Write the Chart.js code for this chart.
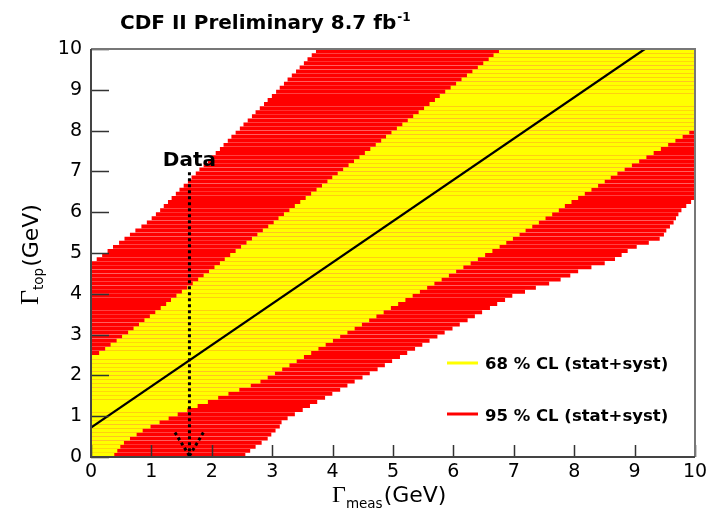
<!DOCTYPE html>
<html><head><meta charset="utf-8">
<script src="https://cdn.jsdelivr.net/npm/chart.js@4.4.0/dist/chart.umd.min.js"></script>
<style>html,body{margin:0;padding:0;background:#fff}#wrap{width:720px;height:513px;position:relative}</style>
</head><body><div id="wrap"><canvas id="c" width="720" height="513"></canvas></div>
<script>
// ---- data (Gamma_top rows, GeV) ----
const gammaTop = [0.05,0.15,0.25,0.35,0.45,0.55,0.65,0.75,0.85,0.95,1.05,1.15,1.25,1.35,1.45,1.55,1.65,1.75,1.85,1.95,2.05,2.15,2.25,2.35,2.45,2.55,2.65,2.75,2.85,2.95,3.05,3.15,3.25,3.35,3.45,3.55,3.65,3.75,3.85,3.95,4.05,4.15,4.25,4.35,4.45,4.55,4.65,4.75,4.85,4.95,5.05,5.15,5.25,5.35,5.45,5.55,5.65,5.75,5.85,5.95,6.05,6.15,6.25,6.35,6.45,6.55,6.65,6.75,6.85,6.95,7.05,7.15,7.25,7.35,7.45,7.55,7.65,7.75,7.85,7.95,8.05,8.15,8.25,8.35,8.45,8.55,8.65,8.75,8.85,8.95,9.05,9.15,9.25,9.35,9.45,9.55,9.65,9.75,9.85,9.95];
// 95% CL band in Gamma_meas
const cl95Low = [0,0,0,0,0,0,0,0,0,0,0,0,0,0,0,0,0,0,0,0,0,0,0,0,0,0,0,0,0,0,0,0,0,0,0,0,0,0,0,0,0,0,0,0,0,0,0,0,
 0.10,0.19,0.28,0.37,0.47,0.56,0.65,0.74,0.84,0.93,
 1.01,1.08,1.15,1.21,1.28,1.34,1.41,1.47,1.54,1.61,1.67,1.74,1.80,1.87,1.94,2.00,2.07,2.14,2.20,2.27,2.33,2.40,2.47,2.53,2.60,2.67,2.73,2.80,2.87,2.93,3.00,3.07,3.13,3.20,3.26,3.33,3.40,3.46,3.53,3.59,3.66,3.73];
const cl95High = [2.55,2.63,2.72,2.82,2.92,2.98,3.05,3.12,3.15,3.25,3.37,3.50,3.62,3.74,3.87,3.99,4.12,4.24,4.36,4.49,4.61,4.74,4.86,4.98,5.11,5.23,5.36,5.48,5.60,5.73,5.85,5.98,6.10,6.23,6.35,6.47,6.60,6.72,6.85,6.97,7.18,7.36,7.58,7.77,7.93,8.06,8.28,8.50,8.67,8.78,8.88,9.03,9.23,9.41,9.48,9.52,9.58,9.64,9.68,9.72,9.77,9.85,9.93,9.99,
 10,10,10,10,10,10,10,10,10,10,10,10,10,10,10,10,10,10,10,10,10,10,10,10,10,10,10,10,10,10,10,10,10,10,10,10];
// 68% CL band in Gamma_meas
const cl68Low = [0,0,0,0,0,0,0,0,0,0,0,0,0,0,0,0,0,0,0,0,0,0,0,0,0,
 0.14,0.24,0.33,0.43,0.52,0.62,0.71,0.80,
 0.89,0.98,1.07,1.16,1.25,1.33,1.42,1.51,1.60,1.69,1.78,1.87,1.96,2.05,2.14,2.22,2.31,2.40,2.49,2.58,2.67,2.76,2.85,2.94,3.03,3.11,3.20,3.29,3.38,3.47,3.56,3.65,3.74,3.83,3.92,4.00,4.09,4.18,4.27,4.36,4.45,4.54,4.63,4.72,4.81,4.89,4.98,5.07,5.16,5.25,5.34,5.43,5.52,5.61,5.70,5.78,5.87,5.96,6.05,6.14,6.23,6.32,6.41,6.50,6.59,6.67,6.76];
const cl68High = [0.38,0.43,0.48,0.54,0.64,0.75,0.85,0.98,1.13,1.28,
 1.43,1.59,1.76,1.93,2.10,2.27,2.45,2.64,2.80,2.92,
 3.04,3.16,3.28,3.40,3.52,3.64,3.76,3.88,4.00,4.12,
 4.24,4.36,4.48,4.60,4.72,4.84,4.96,5.08,5.20,5.32,
 5.44,5.56,5.68,5.80,5.92,6.04,6.16,6.28,6.40,6.52,
 6.64,6.76,6.87,6.98,7.09,7.19,7.30,7.41,7.52,7.63,
 7.74,7.84,7.95,8.06,8.17,8.28,8.39,8.50,8.60,8.71,
 8.83,8.95,9.07,9.19,9.31,9.43,9.55,9.67,9.79,9.90,
 10,10,10,10,10,10,10,10,10,10,10,10,10,10,10,10,10,10,10,10];
// central (median) line: Gamma_meas -> Gamma_top
const medianMeas = [0, 9.17];
const medianTop = [0.72, 10];
// measured value and the arrow
const measuredGamma = 1.63;
const arrowTopGamma = 6.98;
const arrowHeadMeas = [1.39, 1.86];
const arrowHeadTop = 0.6;
const arrowTipTop = 0.03;
// ticks
const xTicks = [0,1,2,3,4,5,6,7,8,9,10];
const yTicks = [0,1,2,3,4,5,6,7,8,9,10];
const legendLabels = ['68 % CL (stat+syst)', '95 % CL (stat+syst)'];

// ---- build datasets ----
const bars95 = gammaTop.map((g,i)=>({y:g, x:[cl95Low[i], cl95High[i]]}));
const bars68 = gammaTop.map((g,i)=>({y:g, x:[cl68Low[i], cl68High[i]]}));
const medianPts = medianMeas.map((m,i)=>({x:m, y:medianTop[i]}));

const SANS = '"DejaVu Sans", "Liberation Sans", sans-serif';
const SERIF = '"Liberation Serif", "DejaVu Serif", serif';

const annot = {
  id: 'annot',
  afterDatasetsDraw(chart){
    const {ctx, chartArea:a, scales:{x, y}} = chart;
    ctx.save();
    ctx.strokeStyle = '#333'; ctx.lineWidth = 1.5;
    ctx.beginPath();
    yTicks.forEach(v=>{ const p = Math.round(y.getPixelForValue(v))+0.5; ctx.moveTo(a.left, p); ctx.lineTo(a.left+18, p); });
    xTicks.forEach(v=>{ const p = Math.round(x.getPixelForValue(v))+0.5; ctx.moveTo(p, a.bottom); ctx.lineTo(p, a.bottom-12); });
    ctx.stroke();
    ctx.strokeStyle = '#777'; ctx.lineWidth = 2;
    ctx.beginPath();
    ctx.moveTo(a.left, a.top); ctx.lineTo(a.right, a.top); ctx.lineTo(a.right, a.bottom);
    ctx.stroke();
    ctx.strokeStyle = '#444'; ctx.lineWidth = 2;
    ctx.beginPath();
    ctx.moveTo(a.left, a.top); ctx.lineTo(a.left, a.bottom); ctx.lineTo(a.right, a.bottom);
    ctx.stroke();
    ctx.restore();
  },
  afterDraw(chart){
    const {ctx, chartArea:a, scales:{x, y}} = chart;
    ctx.save();
    ctx.fillStyle = '#000';
    ctx.textBaseline = 'alphabetic';
    ctx.textAlign = 'left';
    ctx.font = 'bold 20px ' + SANS;
    const t = 'CDF II Preliminary 8.7 fb';
    ctx.fillText(t, 120, 29);
    const tw = ctx.measureText(t).width;
    ctx.font = 'bold 12px ' + SANS;
    ctx.fillText('-1', 120+tw+1, 21);
    ctx.font = 'bold 20px ' + SANS;
    ctx.textAlign = 'center';
    ctx.fillText('Data', x.getPixelForValue(measuredGamma), 166);
    ctx.textAlign = 'left';
    const lx0 = 447, lx1 = 478;
    const rows = [{c:'#ffff00', yy:363, tb:369}, {c:'#ff0000', yy:414, tb:421}];
    rows.forEach((r,i)=>{
      ctx.strokeStyle = r.c; ctx.lineWidth = 3;
      ctx.beginPath(); ctx.moveTo(lx0, r.yy); ctx.lineTo(lx1, r.yy); ctx.stroke();
      ctx.font = 'bold 16.5px ' + SANS;
      ctx.fillStyle = '#000';
      ctx.fillText(legendLabels[i], 485, r.tb);
    });
    let px = 332;
    ctx.font = '24px ' + SERIF; ctx.fillText('\u0393', px, 502); px += ctx.measureText('\u0393').width;
    ctx.font = '13.5px ' + SANS; ctx.fillText('meas', px, 508); px += ctx.measureText('meas').width + 1;
    ctx.font = '22px ' + SANS; ctx.fillText('(GeV)', px, 502);
    ctx.save();
    ctx.translate(38, 305);
    ctx.rotate(-Math.PI/2);
    let py = 0;
    ctx.font = '26px ' + SERIF; ctx.fillText('\u0393', py, 0); py += ctx.measureText('\u0393').width;
    ctx.font = '13.5px ' + SANS; ctx.fillText('top', py, 5); py += ctx.measureText('top').width + 1;
    ctx.font = '22px ' + SANS; ctx.fillText('(GeV)', py, 0);
    ctx.restore();
    ctx.restore();
  }
};

new Chart(document.getElementById('c'), {
  type: 'bar',
  data: {
    datasets: [
      { type:'line', data: medianPts, borderColor:'#000', borderWidth:2.2, pointRadius:0, order:0, fill:false },
      { type:'line', data: [{x:measuredGamma, y:arrowTopGamma},{x:measuredGamma, y:0}], borderColor:'#000', borderWidth:3, borderDash:[3,3], pointRadius:0, order:0, fill:false },
      { type:'line', data: [{x:arrowHeadMeas[0], y:arrowHeadTop},{x:measuredGamma, y:arrowTipTop}], borderColor:'#000', borderWidth:3, borderDash:[3,3], pointRadius:0, order:0, fill:false },
      { type:'line', data: [{x:arrowHeadMeas[1], y:arrowHeadTop},{x:measuredGamma, y:arrowTipTop}], borderColor:'#000', borderWidth:3, borderDash:[3,3], pointRadius:0, order:0, fill:false },
      { type:'bar', indexAxis:'y', label:legendLabels[0], data: bars68, backgroundColor:'#ffff00', borderWidth:0, barThickness:3.3, grouped:false, order:1 },
      { type:'bar', indexAxis:'y', label:legendLabels[1], data: bars95, backgroundColor:'#ff0000', borderWidth:0, barThickness:3.3, grouped:false, order:2 }
    ]
  },
  options: {
    responsive:false, animation:false, devicePixelRatio:1,
    layout:{ padding:{ left:0, right:25, top:49, bottom:0 } },
    plugins:{ legend:{display:false}, tooltip:{enabled:false}, title:{display:false} },
    scales:{
      x:{ type:'linear', min:0, max:10, offset:false, position:'bottom',
          grid:{display:false, drawTicks:false}, border:{display:false},
          ticks:{ stepSize:1, color:'#000', font:{family:SANS, size:19}, padding:4, maxRotation:0, autoSkip:false },
          afterBuildTicks(s){ s.ticks = xTicks.map(v=>({value:v})); },
          afterFit(s){ s.height = 56; } },
      y:{ type:'linear', min:0, max:10, offset:false, position:'left',
          grid:{display:false, drawTicks:false}, border:{display:false},
          ticks:{ stepSize:1, color:'#000', font:{family:SANS, size:19}, padding:9, autoSkip:false },
          afterBuildTicks(s){ s.ticks = yTicks.map(v=>({value:v})); },
          afterFit(s){ s.width = 91; } }
    }
  },
  plugins:[annot]
});
</script></body></html>
